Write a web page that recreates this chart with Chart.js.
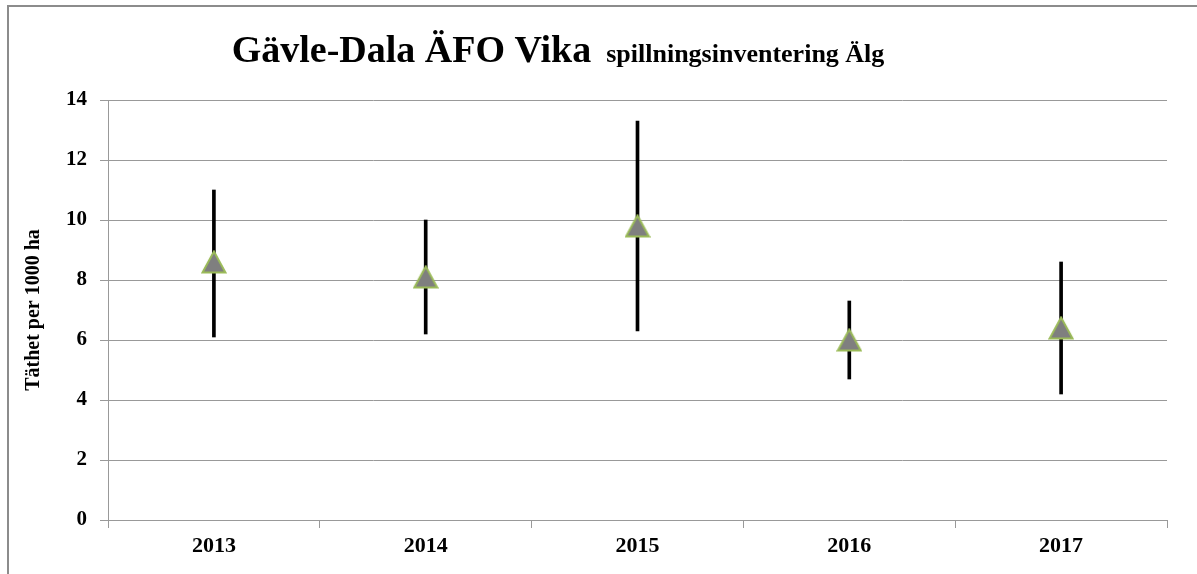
<!DOCTYPE html>
<html>
<head>
<meta charset="utf-8">
<script src="https://cdn.jsdelivr.net/npm/chart.js@4/dist/chart.umd.min.js"></script>
<style>
  html, body { margin: 0; padding: 0; background: #fff; }
  #wrap { width: 1197px; height: 574px; }
</style>
</head>
<body>
<div id="wrap"><canvas id="chart" width="1197" height="574"></canvas></div>
<script>
  const years = ["2013", "2014", "2015", "2016", "2017"];
  const density = [8.6, 8.1, 9.8, 6.0, 6.4];
  const lower = [6.1, 6.2, 6.3, 4.7, 4.2];
  const upper = [11.0, 10.0, 13.3, 7.3, 8.6];
  const yMin = 0;
  const yMax = 14;
  const yStep = 2;

  const titleMain = "Gävle-Dala ÄFO Vika";
  const titleSub = "spillningsinventering Älg";
  const yTitle = "Täthet per 1000 ha";

  const serif = "'Liberation Serif', 'Times New Roman', serif";

  // triangle marker centred on its bounding box (like Excel)
  function makeTriangle() {
    const c = document.createElement("canvas");
    c.width = 26;
    c.height = 24;
    const g = c.getContext("2d");
    g.beginPath();
    g.moveTo(13, 1.5);
    g.lineTo(24.5, 22.5);
    g.lineTo(1.5, 22.5);
    g.closePath();
    g.fillStyle = "#7f7f7f";
    g.fill();
    g.strokeStyle = "#9bbb59";
    g.lineWidth = 2;
    g.stroke();
    return c;
  }

  // frame lines + two-size title
  const frame = {
    id: "frame",
    beforeDraw(chart) {
      const ctx = chart.ctx;
      ctx.save();
      ctx.fillStyle = "#fff";
      ctx.fillRect(0, 0, chart.width, chart.height);
      ctx.strokeStyle = "#8c8c8c";
      ctx.lineWidth = 2;
      ctx.beginPath();
      ctx.moveTo(8, chart.height);
      ctx.lineTo(8, 6);
      ctx.lineTo(chart.width, 6);
      ctx.stroke();
      ctx.restore();
    },
    afterDraw(chart) {
      const ctx = chart.ctx;
      ctx.save();
      ctx.fillStyle = "#000";
      ctx.textBaseline = "alphabetic";
      ctx.font = "bold 38px " + serif;
      const w1 = ctx.measureText(titleMain).width + 15;
      ctx.font = "bold 26px " + serif;
      const w2 = ctx.measureText(titleSub).width;
      const x0 = 558 - (w1 + w2) / 2;
      ctx.font = "bold 38px " + serif;
      ctx.fillText(titleMain, x0, 62);
      ctx.font = "bold 26px " + serif;
      ctx.fillText(titleSub, x0 + w1, 62);
      ctx.restore();
    },
  };

  new Chart(document.getElementById("chart"), {
    type: "bar",
    data: {
      labels: years,
      datasets: [
        {
          type: "line",
          data: density,
          showLine: false,
          pointStyle: makeTriangle(),
          pointRadius: 12,
          pointHoverRadius: 12,
          order: 0,
        },
        {
          data: years.map((y, i) => [lower[i], upper[i]]),
          backgroundColor: "#000",
          barThickness: 3,
          order: 1,
        },
      ],
    },
    options: {
      responsive: false,
      animation: false,
      layout: { padding: { top: 100, right: 30, left: 0, bottom: 0 } },
      plugins: {
        legend: { display: false },
        tooltip: { enabled: false },
      },
      scales: {
        x: {
          offset: true,
          grid: {
            offset: true,
            drawOnChartArea: false,
            tickLength: 8,
            color: "#999",
          },
          border: { color: "#999" },
          ticks: {
            color: "#000",
            padding: 5,
            font: { family: serif, size: 22, weight: "bold" },
          },
          afterFit(s) { s.height = 54; },
        },
        y: {
          min: yMin,
          max: yMax,
          ticks: {
            stepSize: yStep,
            color: "#000",
            padding: 13,
            font: { family: serif, size: 21, weight: "bold" },
          },
          grid: { color: "#999", tickLength: 8 },
          border: { color: "#999" },
          title: {
            display: true,
            text: yTitle,
            color: "#000",
            padding: { top: 22, bottom: 0 },
            font: { family: serif, size: 20, weight: "bold" },
          },
          afterFit(s) { s.width = 108; },
        },
      },
    },
    plugins: [frame],
  });
</script>
</body>
</html>
